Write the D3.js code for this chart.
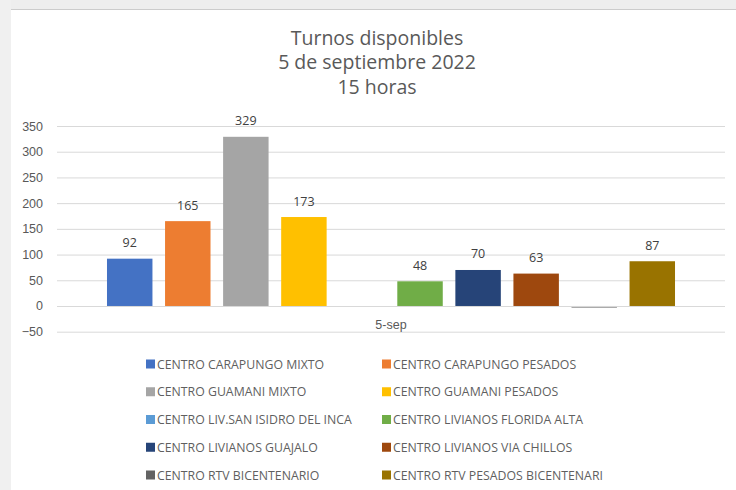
<!DOCTYPE html>
<html>
<head>
<meta charset="utf-8">
<script src="https://cdn.jsdelivr.net/npm/d3@7"></script>
<style>
  body { margin: 0; background: #fff; }
  svg { display: block; font-family: "Open Sans", sans-serif; }
</style>
</head>
<body>
<svg id="chart"></svg>
<script>
/* données du graphique */
const category = '5-sep'
const centros = [
  'CENTRO CARAPUNGO MIXTO', 'CENTRO CARAPUNGO PESADOS',
  'CENTRO GUAMANI MIXTO', 'CENTRO GUAMANI PESADOS',
  'CENTRO LIV.SAN ISIDRO DEL INCA', 'CENTRO LIVIANOS FLORIDA ALTA',
  'CENTRO LIVIANOS GUAJALO', 'CENTRO LIVIANOS VIA CHILLOS',
  'CENTRO RTV BICENTENARIO', 'CENTRO RTV PESADOS BICENTENARI'
]
const turnos = [92, 165, 329, 173, 0, 48, 70, 63, -3, 87]
const colores = ['#4472C4', '#ED7D31', '#A5A5A5', '#FFC000', '#5B9BD5',
                 '#70AD47', '#264478', '#9E480E', '#636363', '#997300']
const yTicks = [-50, 0, 50, 100, 150, 200, 250, 300, 350]
const titulo = ['Turnos disponibles', '5 de septiembre 2022', '15 horas']

const width = 736, height = 490
const plot = {left: 57, right: 725, top: 126, bottom: 331.7}

const svg = d3.select('#chart').attr('width', width).attr('height', height)

// fond gris façon capture d'écran
svg.append('rect').attr('x', 0).attr('y', 0).attr('width', width).attr('height', 9).attr('fill', '#eeeeee')
svg.append('rect').attr('x', 0).attr('y', 0).attr('width', 11).attr('height', height).attr('fill', '#f0f0f0')
svg.append('line').attr('x1', 11).attr('x2', width).attr('y1', 9.5).attr('y2', 9.5)
   .attr('stroke', '#cccccc').attr('stroke-width', 1)

// titre
svg.append('g').selectAll('text')
   .data(titulo)
   .enter()
   .append('text')
   .attr('x', 377)
   .attr('y', (d, i) => 44.5 + i * 24.5)
   .attr('text-anchor', 'middle')
   .style('font-size', '19.5px')
   .attr('fill', '#595959')
   .text(d => d)

// échelles
const yScale = d3.scaleLinear().domain([-50, 350]).range([plot.bottom, plot.top])
const x0 = d3.scaleBand().domain([category]).range([plot.left, plot.right]).paddingOuter(0.088)
const x1 = d3.scaleBand().domain(centros).range([0, x0.bandwidth()]).paddingInner(0.217).paddingOuter(0)

// grille + axe y
const yAxis = d3.axisLeft(yScale)
  .tickValues(yTicks)
  .tickSize(-(plot.right - plot.left))
  .tickPadding(14)

const gy = svg.append('g')
  .attr('transform', 'translate(' + plot.left + ',0)')
  .call(yAxis)
gy.select('.domain').remove()
gy.selectAll('.tick line').attr('stroke', '#d9d9d9').attr('stroke-width', 1)
gy.selectAll('.tick text').attr('fill', '#595959').style('font-size', '12.5px')

// barres
const gBars = svg.append('g').attr('transform', 'translate(' + x0(category) + ',0)')
gBars.selectAll('rect')
  .data(turnos)
  .enter()
  .append('rect')
  .attr('x', (d, i) => x1(centros[i]))
  .attr('width', x1.bandwidth())
  .attr('y', d => yScale(Math.max(0, d)))
  .attr('height', d => Math.abs(yScale(d) - yScale(0)))
  .attr('fill', (d, i) => colores[i])

// étiquettes de valeurs (seulement les valeurs positives)
gBars.selectAll('text')
  .data(turnos.map((v, i) => ({v: v, c: centros[i]})).filter(d => d.v > 0))
  .enter()
  .append('text')
  .attr('x', d => x1(d.c) + x1.bandwidth() / 2)
  .attr('y', d => yScale(d.v) - 11.5)
  .attr('text-anchor', 'middle')
  .attr('fill', '#404040')
  .style('font-size', '12.5px')
  .text(d => d.v)

// axe x (catégorie)
const xAxis = d3.axisBottom(x0).tickSize(0).tickPadding(14)
const gx = svg.append('g')
  .attr('transform', 'translate(0,' + yScale(0) + ')')
  .call(xAxis)
gx.select('.domain').attr('stroke', '#d9d9d9')
gx.select('.domain').attr('d', 'M' + plot.left + ',0.5H' + plot.right)
gx.selectAll('.tick text').attr('fill', '#595959').style('font-size', '12.5px')

// légende
const legend = svg.append('g')
const items = legend.selectAll('g')
  .data(centros)
  .enter()
  .append('g')
  .attr('transform', (d, i) => 'translate(' + (i % 2 === 0 ? 146 : 382) + ',' + (364 + Math.floor(i / 2) * 27.75) + ')')
items.append('rect')
  .attr('x', 0).attr('y', -4.5)
  .attr('width', 9).attr('height', 9)
  .attr('fill', (d, i) => colores[i])
items.append('text')
  .attr('x', 11)
  .attr('y', 4.5)
  .attr('fill', '#5f5f5f')
  .style('font-size', '12.3px')
  .text(d => d)
</script>
</body>
</html>
